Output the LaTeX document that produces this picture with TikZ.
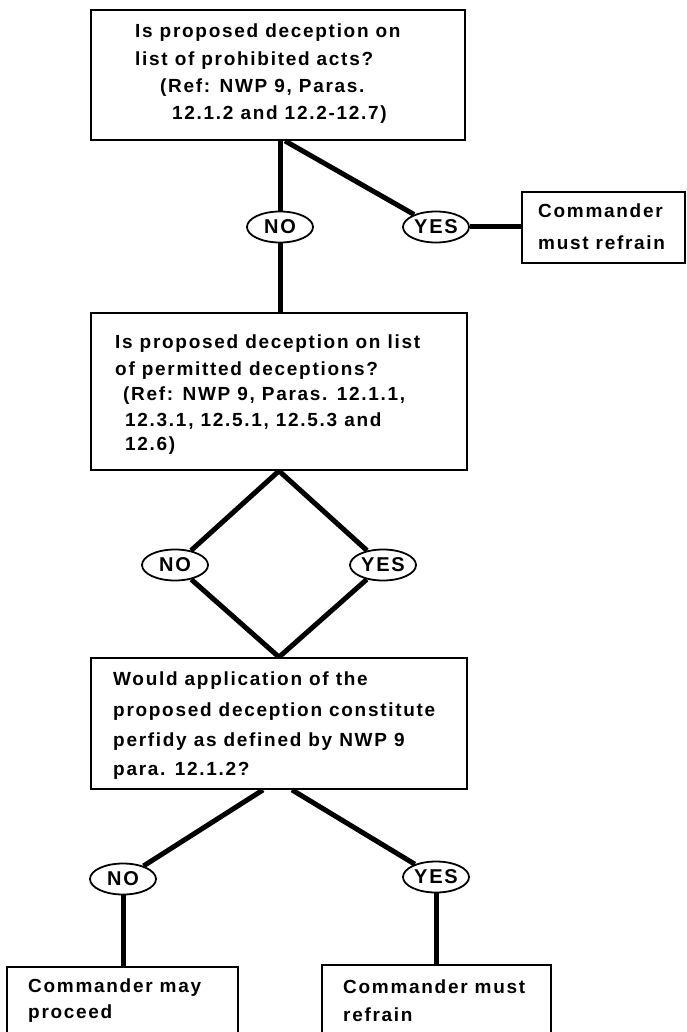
\documentclass[tikz,border=0pt]{standalone}
\usepackage{fontspec}
\setmainfont{Liberation Sans}[LetterSpace=9]
\usetikzlibrary{shapes.geometric,calc}
\tikzset{
  box/.style={draw=black, line width=1.8pt, rectangle, inner sep=0pt},
  lbl/.style={font=\fontsize{19}{21}\selectfont\bfseries, inner sep=0pt, anchor=base west},
  oval/.style={draw=black, ellipse, line width=1.8pt, minimum width=66pt, minimum height=31pt, inner sep=0pt, font=\fontsize{20}{22}\selectfont\bfseries, fill=white},
  conn/.style={line width=5pt},
}
\begin{document}
\begin{tikzpicture}[x=1pt,y=-1pt]
\useasboundingbox (0,0) rectangle (686,1032);
\fill[white] (0,0) rectangle (686,1032);
\clip (0,0) rectangle (686,1032);

% boxes
\node[box, minimum width=374pt, minimum height=130pt] (b1) at (278,75) {};
\node[box, minimum width=163pt, minimum height=71pt] (bR) at (603.5,227.5) {};
\node[box, minimum width=376pt, minimum height=157pt] (b2) at (279,391.5) {};
\node[box, minimum width=376pt, minimum height=131pt] (b3) at (279,723.5) {};
\node[box, minimum width=231pt, minimum height=83pt] (b4) at (122.5,1008.5) {};
\node[box, minimum width=229pt, minimum height=85pt] (b5) at (436.5,1007.5) {};

% ovals
\node[oval] (no1) at (280,227) {NO};
\node[oval] (yes1) at (436,227) {YES};
\node[oval] (no2) at (175,565) {NO};
\node[oval] (yes2) at (383,565) {YES};
\node[oval] (no3) at (123,879) {NO};
\node[oval] (yes3) at (436,877) {YES};

% connectors
\draw[conn] (b1.south -| no1) -- (no1);
\draw[conn] (no1) -- (no1 |- b2.north);
\draw[conn] ($(b1.south)+(7,0)$) -- (yes1);
\draw[conn] (yes1) -- (yes1 -| bR.west);
\draw[conn] (b2.south) -- (no2);
\draw[conn] (b2.south) -- (yes2);
\draw[conn] (no2) -- (b3.north);
\draw[conn] (yes2) -- (b3.north);
\draw[conn] ($(b3.south)+(-16,0)$) -- (no3);
\draw[conn] ($(b3.south)+(13,0)$) -- (yes3);
\draw[conn] (no3) -- (no3 |- b4.north);
\draw[conn] (yes3) -- (yes3 |- b5.north);

% texts box 1
\node[lbl] (t11) at (135,38) {Is proposed deception on};
\node[lbl] (t12) at (135,66) {list of prohibited acts?};
\node[lbl] (t13) at (160,93) {(Ref: NWP 9, Paras.};
\node[lbl] (t14) at (172,120) {12.1.2 and 12.2-12.7)};
% right box
\node[lbl] (tR1) at (538,218) {Commander};
\node[lbl] (tR2) at (538,249) {must refrain};
% box 2
\node[lbl] (t21) at (115,348) {Is proposed deception on list};
\node[lbl] (t22) at (115,375) {of permitted deceptions?};
\node[lbl] (t23) at (123,400) {(Ref: NWP 9, Paras. 12.1.1,};
\node[lbl] (t24) at (125,426) {12.3.1, 12.5.1, 12.5.3 and};
\node[lbl] (t25) at (125,450) {12.6)};
% box 3
\node[lbl] (t31) at (113,685) {Would application of the};
\node[lbl] (t32) at (113,716) {proposed deception constitute};
\node[lbl] (t33) at (113,746) {perfidy as defined by NWP 9};
\node[lbl] (t34) at (113,775) {para. 12.1.2?};
% bottom boxes
\node[lbl] (t41) at (28,992) {Commander may};
\node[lbl] (t42) at (28,1018) {proceed};
\node[lbl] (t51) at (343,993) {Commander must};
\node[lbl] (t52) at (343,1021) {refrain};
\end{tikzpicture}
\end{document}
